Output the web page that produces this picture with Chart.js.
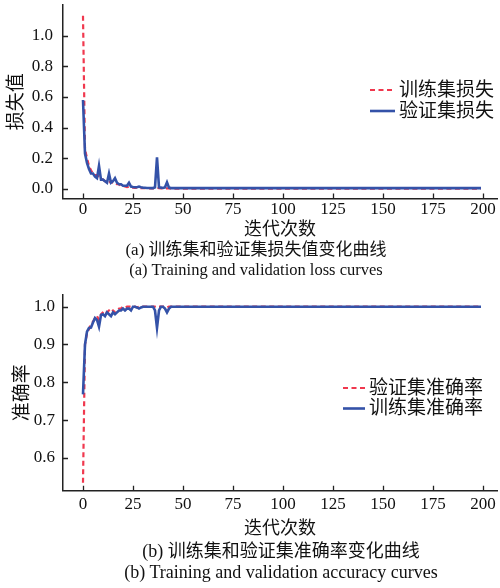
<!DOCTYPE html>
<html>
<head>
<meta charset="utf-8">
<script src="https://cdn.jsdelivr.net/npm/chart.js@4.4.0/dist/chart.umd.min.js"></script>
<style>
body{margin:0;background:#fff;width:500px;height:588px;position:relative;overflow:hidden;font-family:'Liberation Serif','Noto Sans CJK SC',serif;color:#111}
.box{position:absolute;left:0;width:500px}
.cap{position:absolute;left:0;width:512px;text-align:center;white-space:nowrap;line-height:1}
</style>
</head>
<body>
<div class="box" style="top:0;height:241px"><canvas id="lossChart"></canvas></div>
<div class="cap" style="top:241px;font-size:17px">(a) 训练集和验证集损失值变化曲线</div>
<div class="cap" style="top:262px;font-size:16.5px">(a) Training and validation loss curves</div>
<div class="box" style="top:290px;height:250px"><canvas id="accChart"></canvas></div>
<div class="cap" style="top:542px;font-size:18px;width:562px">(b) 训练集和验证集准确率变化曲线</div>
<div class="cap" style="top:563px;font-size:18px;width:562px">(b) Training and validation accuracy curves</div>
<script>
// tick labels
const xTicks = [0, 25, 50, 75, 100, 125, 150, 175, 200];
const lossTicks = [0, 0.2, 0.4, 0.6, 0.8, 1.0];
const accTicks = [0.6, 0.7, 0.8, 0.9, 1.0];

const lossLabels = ['训练集损失', '验证集损失'];
const accLabels = ['验证集准确率', '训练集准确率'];

// loss per epoch
const trainLoss = [
  1.13,0.26,0.20,0.15,0.12,0.10,0.09,0.09,0.08,0.07,
  0.06,0.05,0.05,0.04,0.05,0.04,0.04,0.03,0.03,0.02,
  0.02,0.015,0.012,0.015,0.01,0.008,0.006,0.008,0.006,0.005,
  0.004,0.004,0.003,0.003,0.003,0.003,0.004,0.006,0.004,0.003,
  0.003,0.003,0.004,0.003,0.002,0.002,0.002,0.002,0.002,0.002,
  0.002,0.002,0.002,0.002,0.002,0.002,0.002,0.002,0.002,0.002,
  0.002,0.002,0.002,0.002,0.002,0.002,0.002,0.002,0.002,0.002,
  0.002,0.002,0.002,0.002,0.002,0.002,0.002,0.002,0.002,0.002,
  0.002,0.002,0.002,0.002,0.002,0.002,0.002,0.002,0.002,0.002,
  0.002,0.002,0.002,0.002,0.002,0.002,0.002,0.002,0.002,0.002,
  0.002,0.002,0.002,0.002,0.002,0.002,0.002,0.002,0.002,0.002,
  0.002,0.002,0.002,0.002,0.002,0.002,0.002,0.002,0.002,0.002,
  0.002,0.002,0.002,0.002,0.002,0.002,0.002,0.002,0.002,0.002,
  0.002,0.002,0.002,0.002,0.002,0.002,0.002,0.002,0.002,0.002,
  0.002,0.002,0.002,0.002,0.002,0.002,0.002,0.002,0.002,0.002,
  0.002,0.002,0.002,0.002,0.002,0.002,0.002,0.002,0.002,0.002,
  0.002,0.002,0.002,0.002,0.002,0.002,0.002,0.002,0.002,0.002,
  0.002,0.002,0.002,0.002,0.002,0.002,0.002,0.002,0.002,0.002,
  0.002,0.002,0.002,0.002,0.002,0.002,0.002,0.002,0.002,0.002,
  0.002,0.002,0.002,0.002,0.002,0.002,0.002,0.002,0.002,0.002
];
const valLoss = [
  0.58,0.23,0.17,0.13,0.10,0.10,0.08,0.07,0.15,0.06,
  0.06,0.05,0.04,0.10,0.04,0.05,0.07,0.04,0.03,0.03,
  0.02,0.02,0.02,0.04,0.015,0.012,0.01,0.01,0.015,0.01,
  0.008,0.007,0.006,0.006,0.005,0.005,0.01,0.205,0.01,0.008,
  0.006,0.01,0.043,0.008,0.005,0.005,0.005,0.005,0.005,0.005,
  0.005,0.005,0.005,0.005,0.005,0.005,0.005,0.005,0.005,0.005,
  0.005,0.005,0.005,0.005,0.005,0.005,0.005,0.005,0.005,0.005,
  0.005,0.005,0.005,0.005,0.005,0.005,0.005,0.005,0.005,0.005,
  0.005,0.005,0.005,0.005,0.005,0.005,0.005,0.005,0.005,0.005,
  0.005,0.005,0.005,0.005,0.005,0.005,0.005,0.005,0.005,0.005,
  0.005,0.005,0.005,0.005,0.005,0.005,0.005,0.005,0.005,0.005,
  0.005,0.005,0.005,0.005,0.005,0.005,0.005,0.005,0.005,0.005,
  0.005,0.005,0.005,0.005,0.005,0.005,0.005,0.005,0.005,0.005,
  0.005,0.005,0.005,0.005,0.005,0.005,0.005,0.005,0.005,0.005,
  0.005,0.005,0.005,0.005,0.005,0.005,0.005,0.005,0.005,0.005,
  0.005,0.005,0.005,0.005,0.005,0.005,0.005,0.005,0.005,0.005,
  0.005,0.005,0.005,0.005,0.005,0.005,0.005,0.005,0.005,0.005,
  0.005,0.005,0.005,0.005,0.005,0.005,0.005,0.005,0.005,0.005,
  0.005,0.005,0.005,0.005,0.005,0.005,0.005,0.005,0.005,0.005,
  0.005,0.005,0.005,0.005,0.005,0.005,0.005,0.005,0.005,0.005
];

// accuracy per epoch
const valAcc = [
  0.534,0.90,0.93,0.94,0.955,0.96,0.97,0.975,0.965,0.98,
  0.985,0.99,0.985,0.99,0.985,0.99,0.985,0.99,0.995,0.995,
  1.0,0.998,1.0,1.0,1.0,1.0,1.0,0.998,1.0,1.0,
  1.0,1.0,1.0,1.0,1.0,1.0,1.0,0.998,1.0,1.0,
  1.0,1.0,0.998,1.0,1.0,1.0,1.0,1.0,1.0,1.0,
  1.0,1.0,1.0,1.0,1.0,1.0,1.0,1.0,1.0,1.0,
  1.0,1.0,1.0,1.0,1.0,1.0,1.0,1.0,1.0,1.0,
  1.0,1.0,1.0,1.0,1.0,1.0,1.0,1.0,1.0,1.0,
  1.0,1.0,1.0,1.0,1.0,1.0,1.0,1.0,1.0,1.0,
  1.0,1.0,1.0,1.0,1.0,1.0,1.0,1.0,1.0,1.0,
  1.0,1.0,1.0,1.0,1.0,1.0,1.0,1.0,1.0,1.0,
  1.0,1.0,1.0,1.0,1.0,1.0,1.0,1.0,1.0,1.0,
  1.0,1.0,1.0,1.0,1.0,1.0,1.0,1.0,1.0,1.0,
  1.0,1.0,1.0,1.0,1.0,1.0,1.0,1.0,1.0,1.0,
  1.0,1.0,1.0,1.0,1.0,1.0,1.0,1.0,1.0,1.0,
  1.0,1.0,1.0,1.0,1.0,1.0,1.0,1.0,1.0,1.0,
  1.0,1.0,1.0,1.0,1.0,1.0,1.0,1.0,1.0,1.0,
  1.0,1.0,1.0,1.0,1.0,1.0,1.0,1.0,1.0,1.0,
  1.0,1.0,1.0,1.0,1.0,1.0,1.0,1.0,1.0,1.0,
  1.0,1.0,1.0,1.0,1.0,1.0,1.0,1.0,1.0,1.0
];
const trainAcc = [
  0.768,0.90,0.934,0.944,0.945,0.958,0.97,0.965,0.947,0.978,
  0.98,0.975,0.985,0.98,0.975,0.985,0.98,0.985,0.99,0.99,
  0.995,0.99,0.995,0.995,0.99,1.0,1.0,0.998,0.995,0.998,
  1.0,1.0,1.0,1.0,1.0,1.0,0.99,0.944,0.99,1.0,
  1.0,0.995,0.985,0.995,1.0,1.0,1.0,1.0,1.0,1.0,
  1.0,1.0,1.0,1.0,1.0,1.0,1.0,1.0,1.0,1.0,
  1.0,1.0,1.0,1.0,1.0,1.0,1.0,1.0,1.0,1.0,
  1.0,1.0,1.0,1.0,1.0,1.0,1.0,1.0,1.0,1.0,
  1.0,1.0,1.0,1.0,1.0,1.0,1.0,1.0,1.0,1.0,
  1.0,1.0,1.0,1.0,1.0,1.0,1.0,1.0,1.0,1.0,
  1.0,1.0,1.0,1.0,1.0,1.0,1.0,1.0,1.0,1.0,
  1.0,1.0,1.0,1.0,1.0,1.0,1.0,1.0,1.0,1.0,
  1.0,1.0,1.0,1.0,1.0,1.0,1.0,1.0,1.0,1.0,
  1.0,1.0,1.0,1.0,1.0,1.0,1.0,1.0,1.0,1.0,
  1.0,1.0,1.0,1.0,1.0,1.0,1.0,1.0,1.0,1.0,
  1.0,1.0,1.0,1.0,1.0,1.0,1.0,1.0,1.0,1.0,
  1.0,1.0,1.0,1.0,1.0,1.0,1.0,1.0,1.0,1.0,
  1.0,1.0,1.0,1.0,1.0,1.0,1.0,1.0,1.0,1.0,
  1.0,1.0,1.0,1.0,1.0,1.0,1.0,1.0,1.0,1.0,
  1.0,1.0,1.0,1.0,1.0,1.0,1.0,1.0,1.0,1.0
];

const RED = 'rgb(240,56,78)';
const BLUE = 'rgb(52,82,168)';
const AXIS = '#222';
const SERIF = "'Liberation Serif','Noto Sans CJK SC',serif";

function pts(arr) {
  return arr.map((v, i) => ({ x: i, y: v }));
}

// inward tick marks, like the original figure
const inTicks = {
  id: 'inTicks',
  afterDraw(chart) {
    const ctx = chart.ctx, a = chart.chartArea;
    const xs = chart.scales.x, ys = chart.scales.y;
    ctx.save();
    ctx.strokeStyle = AXIS;
    ctx.lineWidth = 1.3;
    ctx.beginPath();
    xs.ticks.forEach(t => {
      const px = Math.round(xs.getPixelForValue(t.value)) + 0.5;
      ctx.moveTo(px, a.bottom);
      ctx.lineTo(px, a.bottom - 5);
    });
    ys.ticks.forEach(t => {
      const py = Math.round(ys.getPixelForValue(t.value)) + 0.5;
      ctx.moveTo(a.left, py);
      ctx.lineTo(a.left + 5, py);
    });
    ctx.stroke();
    ctx.restore();
  }
};

// legend drawn inside the plot
const boxLegend = {
  id: 'boxLegend',
  afterDraw(chart, args, opts) {
    const ctx = chart.ctx;
    ctx.save();
    ctx.font = opts.size + 'px ' + SERIF;
    ctx.textBaseline = 'middle';
    ctx.fillStyle = '#111';
    chart.data.datasets.forEach((ds, i) => {
      const y = opts.y + i * opts.gap;
      ctx.strokeStyle = ds.borderColor;
      ctx.lineWidth = ds.borderWidth;
      ctx.setLineDash(ds.borderDash || []);
      ctx.beginPath();
      ctx.moveTo(opts.x, y);
      ctx.lineTo(opts.x + opts.len, y);
      ctx.stroke();
      ctx.setLineDash([]);
      ctx.fillText(ds.label, opts.x + opts.len + 4, y + 1);
    });
    ctx.restore();
  }
};

function makeChart(id, redData, blueData, labels, yTicks, yMin, yMax, yTitle, cfg) {
  return new Chart(document.getElementById(id), {
    type: 'line',
    data: {
      datasets: [
        { label: labels[0], data: pts(redData), borderColor: RED, borderWidth: 2.2,
          borderDash: [5, 3.5], pointRadius: 0, tension: 0, order: 1 },
        { label: labels[1], data: pts(blueData), borderColor: BLUE, borderWidth: 2.6,
          pointRadius: 0, tension: 0, order: 0 }
      ]
    },
    options: {
      responsive: true,
      maintainAspectRatio: false,
      animation: false,
      events: [],
      layout: { padding: { top: 5, right: 3, left: 0, bottom: 0 } },
      plugins: {
        legend: { display: false },
        tooltip: { enabled: false },
        boxLegend: cfg.legend
      },
      scales: {
        x: {
          type: 'linear', min: -10, max: 207,
          afterBuildTicks: s => { s.ticks = xTicks.map(v => ({ value: v })); },
          afterFit: s => { s.height = cfg.xHeight; s.paddingLeft = 0; s.paddingRight = 0; },
          grid: { display: false, drawTicks: false },
          border: { display: true, color: AXIS, width: 1.5 },
          ticks: { color: '#111', font: { family: SERIF, size: 17 }, padding: cfg.xPad, maxRotation: 0, autoSkip: false },
          title: { display: true, text: '迭代次数', color: '#111',
                   font: { family: SERIF, size: 18 }, padding: { top: 0, bottom: 0 } }
        },
        y: {
          type: 'linear', min: yMin, max: yMax,
          afterBuildTicks: s => { s.ticks = yTicks.map(v => ({ value: v })); },
          afterFit: s => { s.width = 63; s.paddingTop = 0; s.paddingBottom = 0; },
          grid: { display: false, drawTicks: false },
          border: { display: true, color: AXIS, width: 1.5 },
          ticks: { color: '#111', font: { family: SERIF, size: 17 }, padding: cfg.yPad,
                   callback: v => v.toFixed(1) },
          title: { display: true, text: yTitle, color: '#111',
                   font: { family: SERIF, size: 19 }, padding: { top: cfg.yTitlePad, bottom: 0 } }
        }
      }
    },
    plugins: [inTicks, boxLegend]
  });
}

makeChart('lossChart', trainLoss, valLoss, lossLabels, lossTicks, -0.063, 1.2, '损失值', {
  xHeight: 42.5, xPad: 1, yPad: 10, yTitlePad: 6,
  legend: { x: 370, y: 90, gap: 21, len: 25, size: 19 }
});
makeChart('accChart', valAcc, trainAcc, accLabels, accTicks, 0.513, 1.031, '准确率', {
  xHeight: 49.3, xPad: 4, yPad: 8, yTitlePad: 12,
  legend: { x: 343, y: 98, gap: 20.5, len: 22, size: 19 }
});
</script>
</body>
</html>
